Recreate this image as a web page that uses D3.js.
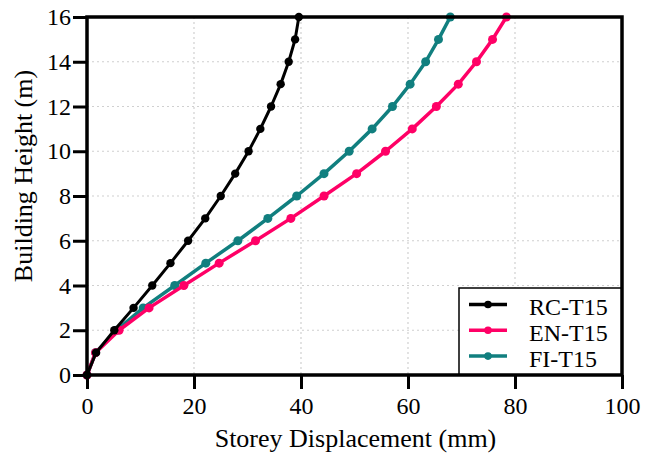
<!DOCTYPE html>
<html><head><meta charset="utf-8">
<script src="https://cdn.jsdelivr.net/npm/d3@7"></script>
<style>body{margin:0;background:#fff}svg{display:block}</style>
</head><body><svg id="c" width="662" height="454"></svg>
<script>
const heights = [0,1,2,3,4,5,6,7,8,9,10,11,12,13,14,15,16];
const rcT15 = [0,1.7,5.1,8.7,12.2,15.6,18.9,22.1,25.0,27.7,30.2,32.4,34.4,36.2,37.7,38.9,39.6];
const enT15 = [0,1.6,6.0,11.6,18.1,24.7,31.5,38.1,44.3,50.4,55.8,60.8,65.3,69.4,72.8,75.8,78.4];
const fiT15 = [0,1.6,5.5,10.5,16.4,22.2,28.2,33.8,39.2,44.3,49.0,53.3,57.1,60.4,63.3,65.7,67.9];
const xTicks = [0,20,40,60,80,100];
const yTicks = [0,2,4,6,8,10,12,14,16];
const seriesNames = ["RC-T15","EN-T15","FI-T15"];
const seriesColors = ["#000000","#ff0066","#117f7f"];
const FONT = "Liberation Serif";

const svg = d3.select("#c");
const L=87,R=622,T=17,B=375;
const x = d3.scaleLinear().domain([0,100]).range([L,R]);
const y = d3.scaleLinear().domain([0,16]).range([B,T]);

// grid
svg.append("g").selectAll("line").data(xTicks.slice(1,-1)).join("line")
  .attr("x1",d=>x(d)).attr("x2",d=>x(d)).attr("y1",T).attr("y2",B)
  .attr("stroke","#d0d0d0").attr("stroke-width",1.2).attr("stroke-dasharray","2,3");
svg.append("g").selectAll("line").data(yTicks.slice(1,-1)).join("line")
  .attr("y1",d=>y(d)).attr("y2",d=>y(d)).attr("x1",L).attr("x2",R)
  .attr("stroke","#d0d0d0").attr("stroke-width",1.2).attr("stroke-dasharray","2,3");

// series
const series = [rcT15,enT15,fiT15];
const order = [2,1,0];
const line = d3.line().x(d=>x(d[0])).y(d=>y(d[1]));
order.forEach(i=>{
  const pts = series[i].map((v,k)=>[v,heights[k]]);
  const g = svg.append("g");
  g.append("path").attr("d",line(pts)).attr("fill","none")
    .attr("stroke",seriesColors[i]).attr("stroke-width",i===0?3:3.5).attr("stroke-linejoin","round");
  g.selectAll("circle").data(pts).join("circle")
    .attr("cx",d=>x(d[0])).attr("cy",d=>y(d[1])).attr("r",i===0?4.2:4.5).attr("fill",seriesColors[i]);
});

// axes
const xa = svg.append("g").attr("transform",`translate(0,${B})`)
  .call(d3.axisBottom(x).tickValues(xTicks).tickSize(14).tickPadding(8).tickFormat(d3.format("d")));
const ya = svg.append("g").attr("transform",`translate(${L},0)`)
  .call(d3.axisLeft(y).tickValues(yTicks).tickSize(14).tickPadding(2).tickFormat(d3.format("d")));
[xa,ya].forEach(a=>{
  a.select(".domain").remove();
  a.selectAll(".tick line").attr("stroke","#000").attr("stroke-width",3);
  a.selectAll(".tick text").attr("fill","#000").style("font-family",FONT).style("font-size","24px");
});
ya.selectAll(".tick line").attr("x2",-14);

// titles
svg.append("text").attr("x",355.5).attr("y",447).attr("text-anchor","middle")
  .style("font-family",FONT).style("font-size","26px").text("Storey Displacement (mm)");
svg.append("text").attr("transform",`translate(32,176) rotate(-90)`).attr("text-anchor","middle")
  .style("font-family",FONT).style("font-size","26px").text("Building Height (m)");

// legend
const lg = svg.append("g");
lg.append("rect").attr("x",459).attr("y",288).attr("width",R-459).attr("height",B-288)
  .attr("fill","#fff").attr("stroke","#000").attr("stroke-width",1.5);
seriesNames.forEach((n,i)=>{
  const yy = 304.5 + i*25.8;
  lg.append("line").attr("x1",469).attr("x2",507).attr("y1",yy).attr("y2",yy)
    .attr("stroke",seriesColors[i]).attr("stroke-width",3.5);
  lg.append("circle").attr("cx",488).attr("cy",yy).attr("r",3.8).attr("fill",seriesColors[i]);
  lg.append("text").attr("x",529).attr("y",yy+10.5).style("font-family",FONT).style("font-size","24px").text(n);
});
// frame
svg.append("rect").attr("x",L).attr("y",T).attr("width",R-L).attr("height",B-T)
  .attr("fill","none").attr("stroke","#000").attr("stroke-width",3.5);
</script></body></html>
